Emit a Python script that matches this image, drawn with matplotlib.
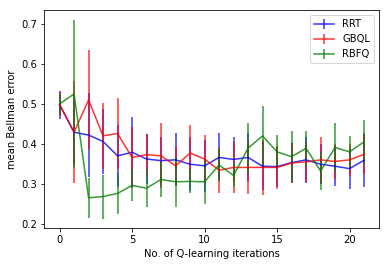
import numpy as np
import matplotlib
matplotlib.use("Agg")
import matplotlib.pyplot as plt

iters = np.arange(22)

rrt = [0.499, 0.430, 0.423, 0.407, 0.371, 0.380, 0.363, 0.359, 0.361, 0.350, 0.346,
       0.367, 0.362, 0.367, 0.345, 0.344, 0.354, 0.361, 0.350, 0.345, 0.339, 0.360]
rrt_err = [0.035, 0.08, 0.105, 0.082, 0.078, 0.088, 0.063, 0.06, 0.066, 0.067, 0.065,
           0.06, 0.057, 0.06, 0.06, 0.05, 0.05, 0.057, 0.05, 0.05, 0.05, 0.067]

gbql = [0.500, 0.430, 0.511, 0.421, 0.427, 0.367, 0.374, 0.371, 0.346, 0.378, 0.363,
        0.335, 0.342, 0.342, 0.342, 0.342, 0.353, 0.356, 0.361, 0.357, 0.361, 0.375]
gbql_err = [0.03, 0.128, 0.124, 0.082, 0.089, 0.076, 0.052, 0.081, 0.049, 0.071, 0.061,
            0.056, 0.064, 0.067, 0.069, 0.053, 0.05, 0.05, 0.058, 0.044, 0.04, 0.05]

rbfq = [0.501, 0.526, 0.266, 0.269, 0.277, 0.297, 0.290, 0.312, 0.306, 0.307, 0.306,
        0.348, 0.322, 0.390, 0.421, 0.381, 0.369, 0.390, 0.333, 0.392, 0.381, 0.406]
rbfq_err = [0.025, 0.185, 0.05, 0.055, 0.051, 0.04, 0.047, 0.044, 0.063, 0.03, 0.055,
            0.04, 0.03, 0.063, 0.075, 0.043, 0.063, 0.044, 0.048, 0.062, 0.04, 0.055]

fig = plt.figure(figsize=(389 / 72, 266 / 72), dpi=72)
ax = fig.add_axes([0.114, 0.141, 0.861, 0.821])

ax.errorbar(iters, rrt, yerr=rrt_err, color="b", alpha=0.8, label="RRT")
ax.errorbar(iters, gbql, yerr=gbql_err, color="r", alpha=0.8, label="GBQL")
ax.errorbar(iters, rbfq, yerr=rbfq_err, color="g", alpha=0.8, label="RBFQ")

ax.set_xlabel("No. of Q-learning iterations")
ax.set_ylabel("mean Bellman error")
ax.legend(loc="upper right")

fig.savefig("out.png", dpi=72)
